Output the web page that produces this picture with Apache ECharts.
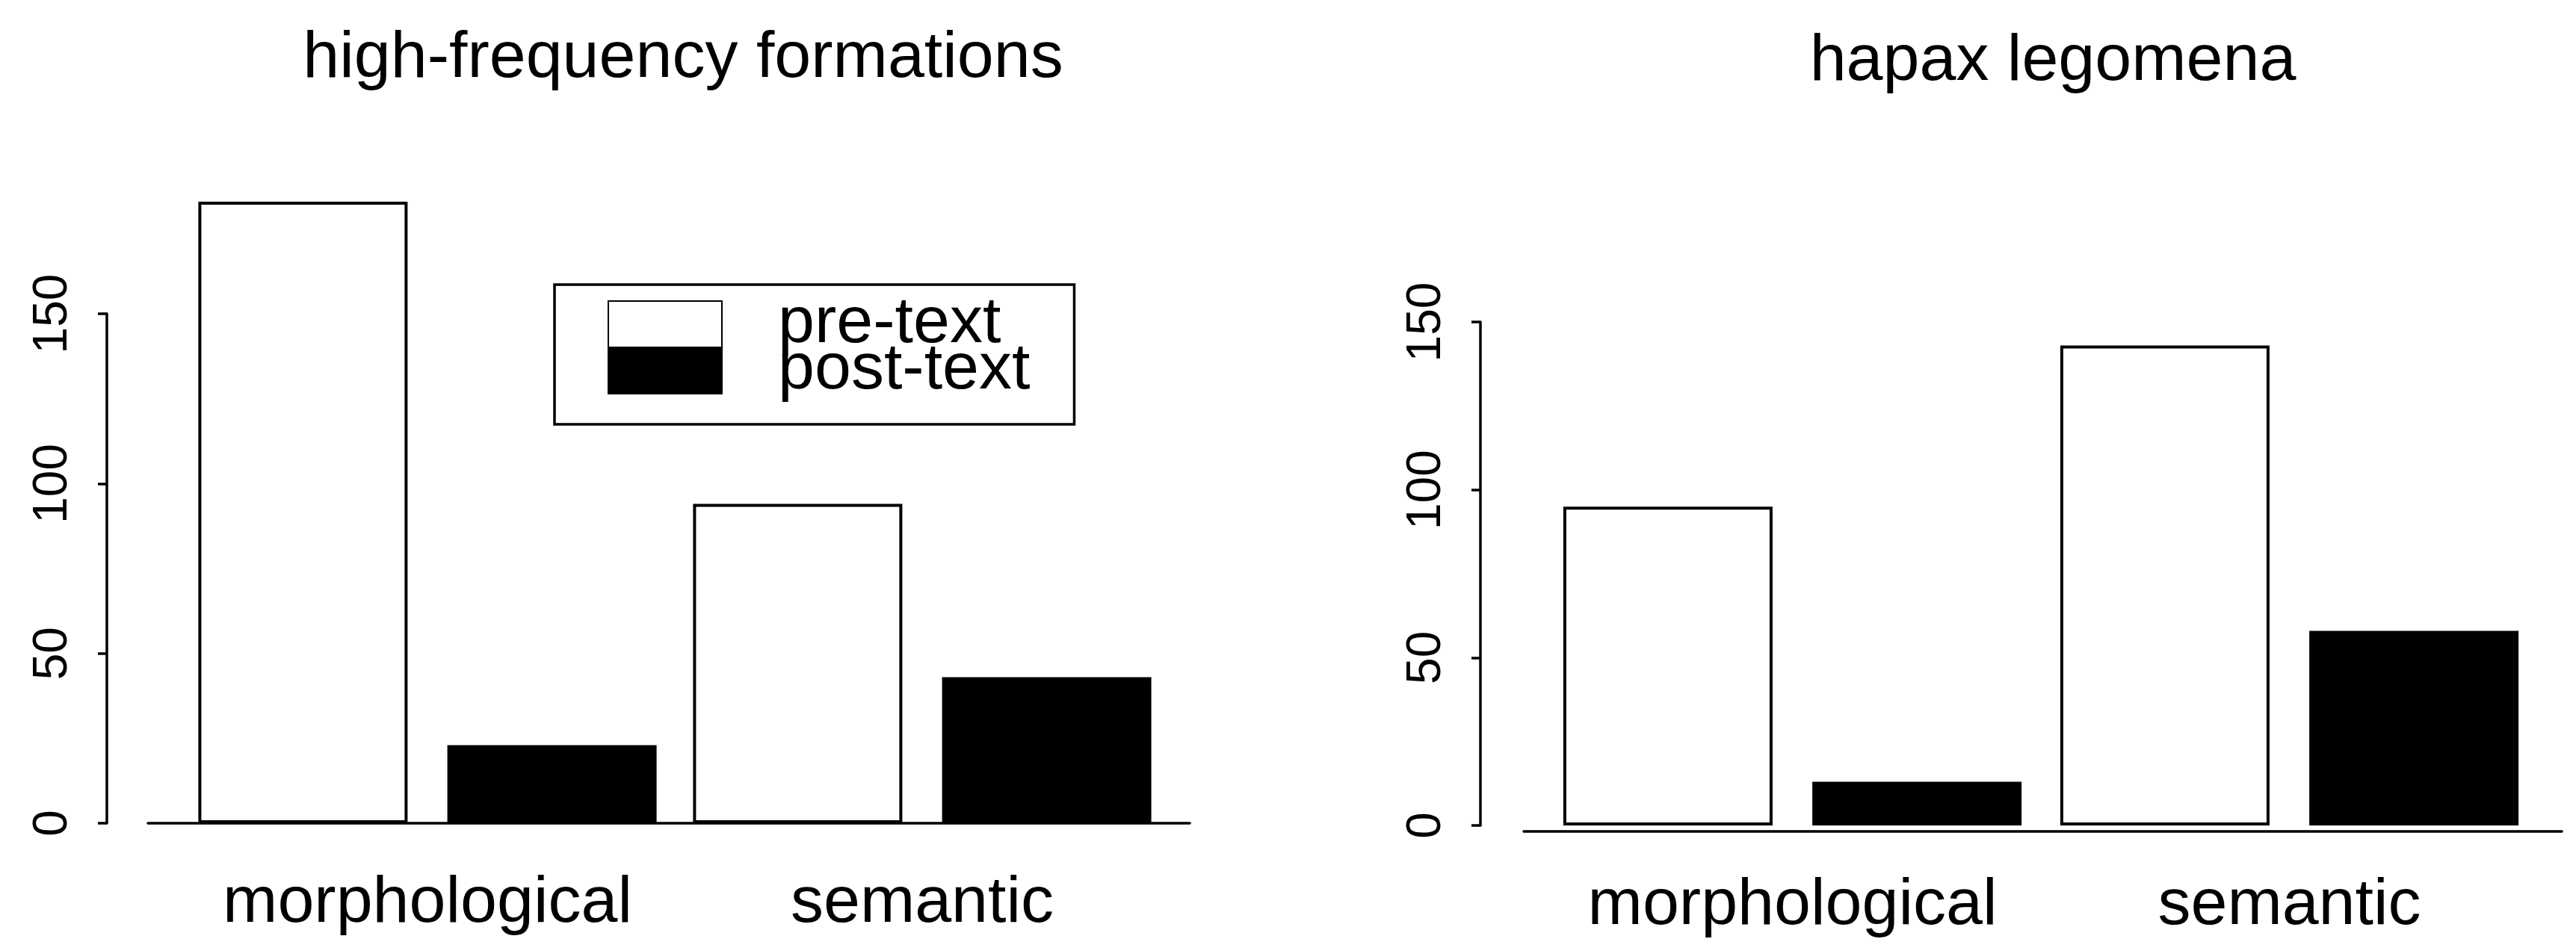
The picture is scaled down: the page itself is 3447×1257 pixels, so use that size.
<!DOCTYPE html>
<html><head><meta charset="utf-8">
<script src="https://cdn.jsdelivr.net/npm/echarts@6/dist/echarts.min.js"></script>
<style>html,body{margin:0;padding:0;background:#fff}#c{width:3447px;height:1257px}</style>
</head><body><div id="c"></div>
<script>
const categories = ['morphological', 'semantic'];
const seriesNames = ['pre-text', 'post-text'];
const titles = ['high-frequency formations', 'hapax legomena'];
const highFreqPre = [183, 94];
const highFreqPost = [23, 43];
const hapaxPre = [95, 143];
const hapaxPost = [13, 58];
const yTicks = [0, 50, 100, 150];

const FONT = 'Liberation Sans, Arial, Helvetica, sans-serif';
const LW = 3.5;
const chart = echarts.init(document.getElementById('c'));

const panels = [
  {barsLeft: 241, barsWidth: 1324, top: 420, height: 682, axisX: 143, baseLeft: 198, baseWidth: 1394},
  {barsLeft: 2066, barsWidth: 1330, top: 431, height: 682, axisX: 1981, baseLeft: 2039, baseWidth: 1389}
];
const data = [[highFreqPre, highFreqPost], [hapaxPre, hapaxPost]];

const grid = [], xAxis = [], yAxis = [], series = [], title = [];
panels.forEach((p, i) => {
  grid.push({left: p.barsLeft, width: p.barsWidth, top: p.top, height: p.height, containLabel: false});
  grid.push({left: p.baseLeft, width: p.baseWidth, top: p.top, height: p.height, containLabel: false});
  const g = i * 2;
  xAxis.push({
    gridIndex: g, type: 'category', data: categories,
    axisLine: {show: false}, axisTick: {show: false},
    axisLabel: {interval: 0, fontSize: 88, color: '#000', fontFamily: FONT, margin: 64}
  });
  xAxis.push({
    gridIndex: g + 1, type: 'value', min: 0, max: 1,
    axisLine: {show: true, onZero: false, lineStyle: {color: '#000', width: LW}},
    axisTick: {show: false}, axisLabel: {show: false}, splitLine: {show: false}
  });
  yAxis.push({
    gridIndex: g, type: 'value',
    min: yTicks[0], max: yTicks[yTicks.length - 1], interval: yTicks[1] - yTicks[0],
    offset: p.barsLeft - p.axisX,
    axisLine: {show: true, lineStyle: {color: '#000', width: LW}},
    axisTick: {show: true, length: 12, lineStyle: {color: '#000', width: LW}},
    splitLine: {show: false},
    axisLabel: {rotate: 90, fontSize: 64, color: '#000', fontFamily: FONT, margin: 40}
  });
  yAxis.push({gridIndex: g + 1, type: 'value', min: 0, max: 1, show: false});
  series.push({
    name: seriesNames[0], type: 'bar', xAxisIndex: g, yAxisIndex: g,
    data: data[i][0], barWidth: 280, barGap: '19%', clip: false,
    itemStyle: {color: '#fff', borderColor: '#000', borderWidth: 4},
    emphasis: {disabled: true}
  });
  series.push({
    name: seriesNames[1], type: 'bar', xAxisIndex: g, yAxisIndex: g,
    data: data[i][1], barWidth: 280, barGap: '19%', clip: false,
    itemStyle: {color: '#000', borderColor: '#000', borderWidth: 4},
    emphasis: {disabled: true}
  });
});

title.push({text: titles[0], left: 909, top: 30, textAlign: 'center',
  textStyle: {fontSize: 88, fontWeight: 'normal', color: '#000', fontFamily: FONT}});
title.push({text: titles[1], left: 2742, top: 34, textAlign: 'center',
  textStyle: {fontSize: 88, fontWeight: 'normal', color: '#000', fontFamily: FONT}});

chart.setOption({
  animation: false,
  backgroundColor: '#fff',
  title: title,
  legend: {
    data: seriesNames, orient: 'vertical', left: 742, top: 381,
    itemWidth: 152, itemHeight: 62, itemGap: -26,
    padding: [9, 59, 28, 71],
    borderColor: '#000', borderWidth: LW,
    icon: 'rect',
    textStyle: {fontSize: 88, color: '#000', fontFamily: FONT, padding: [0, 0, 0, 70]}
  },
  grid: grid, xAxis: xAxis, yAxis: yAxis, series: series
});
</script></body></html>
